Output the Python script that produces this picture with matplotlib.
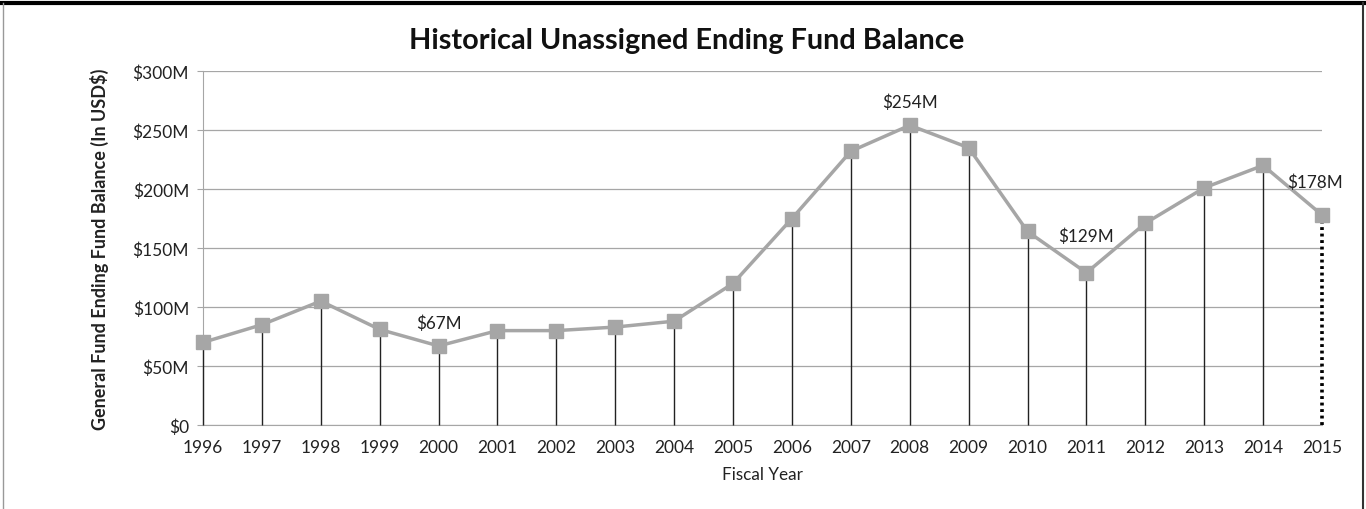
import matplotlib.pyplot as plt
from matplotlib.lines import Line2D

years = [1996, 1997, 1998, 1999, 2000, 2001, 2002, 2003, 2004, 2005,
         2006, 2007, 2008, 2009, 2010, 2011, 2012, 2013, 2014, 2015]
balance = [70, 85, 105, 81, 67, 80, 80, 83, 88, 120,
           175, 232, 254, 235, 164, 129, 171, 201, 220, 178]
yticks = [0, 50, 100, 150, 200, 250, 300]
ytick_labels = ["$0", "$50M", "$100M", "$150M", "$200M", "$250M", "$300M"]

# which points get a value label, and how far above (points)
labelled = {2000: (0, 17), 2008: (0, 17), 2011: (0, 27), 2015: (-5, 24)}

plt.rcParams['font.family'] = ['Lato', 'DejaVu Sans']

fig = plt.figure(figsize=(13.66, 5.10), dpi=100)
ax = fig.add_axes([0.1486, 0.1647, 0.8192, 0.6941])

grey = "#a6a6a6"

# drop lines (drawn over the grey axis spine)
for i in range(len(years)):
    if i == len(years) - 1:
        ax.vlines(years[i], 0, balance[i], color="black", linewidth=2.6,
                  linestyles=(0, (0.8, 1.0)), zorder=2.6, clip_on=False)
    else:
        ax.vlines(years[i], 0, balance[i], color="#222222", linewidth=1.0,
                  zorder=2.6, clip_on=False)

ax.plot(years, balance, color=grey, linewidth=2.5, marker="s", markersize=10,
        markerfacecolor=grey, markeredgecolor=grey, zorder=3, clip_on=False)

for i in range(len(years)):
    if years[i] in labelled:
        dx, dy = labelled[years[i]]
        ax.annotate(f"${balance[i]}M", (years[i], balance[i]), xytext=(dx, dy),
                    textcoords="offset points", ha="center", va="center",
                    fontsize=12.3, color="#222222")

ax.set_xlim(years[0], years[-1])
ax.set_ylim(0, 300)
ax.set_yticks(yticks)
ax.set_yticklabels(ytick_labels)
ax.set_xticks(years)
ax.set_xticklabels([str(y) for y in years])
ax.tick_params(axis="both", labelsize=12.5, colors="#222222")
ax.tick_params(axis="y", length=4, color=grey, pad=6)
ax.tick_params(axis="x", length=0, pad=10)

ax.grid(axis="y", color=grey, linewidth=0.9)
ax.set_axisbelow(True)
for s in ["top", "right"]:
    ax.spines[s].set_visible(False)
ax.spines["left"].set_color(grey)
ax.spines["bottom"].set_color(grey)

ax.set_xlabel("Fiscal Year", fontsize=12.3, color="#222222", labelpad=8)
ax.set_ylabel("General Fund Ending Fund Balance (In USD$)", fontsize=13,
              fontweight="bold", color="#222222", labelpad=17)

fig.text(0.503, 0.92, "Historical Unassigned Ending Fund Balance", ha="center",
         va="center", fontsize=20.8, fontweight="bold", color="#111111")

# outer frame
fig.add_artist(Line2D([0, 1], [0.993, 0.993], transform=fig.transFigure,
                      color="black", linewidth=3))
fig.add_artist(Line2D([0.0025, 0.0025], [0, 0.993], transform=fig.transFigure,
                      color="#999999", linewidth=1))
fig.add_artist(Line2D([0.9975, 0.9975], [0, 0.993], transform=fig.transFigure,
                      color="#333333", linewidth=1.5))

fig.savefig("out.png", dpi=100)
plt.close()
